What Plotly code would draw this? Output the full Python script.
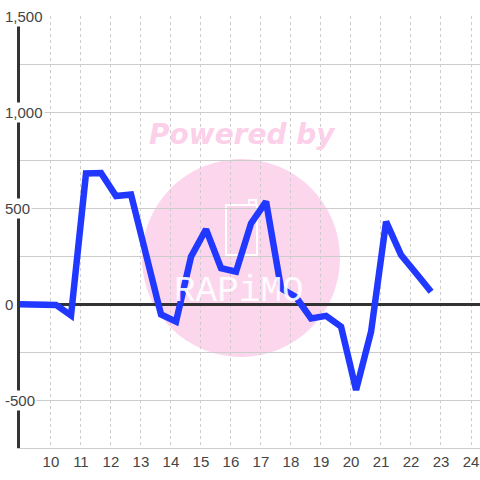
import plotly.graph_objects as go

x_hours = [8.67, 9.17, 9.67, 10.17, 10.67, 11.17, 11.67, 12.17, 12.67, 13.17,
           13.67, 14.17, 14.67, 15.17, 15.67, 16.17, 16.67, 17.17, 17.67, 18.17,
           18.67, 19.17, 19.67, 20.17, 20.67, 21.17, 21.67, 22.17, 22.67]
values = [0, 0, 0, -5, -60, 680, 682, 562, 570, 265,
          -55, -92, 246, 389, 186, 168, 420, 533, 82, 35,
          -75, -62, -118, -448, -144, 429, 255, 160, 64]

x_ticks = list(range(10, 25))
y_label_vals = [-500, 0, 500, 1000, 1500]
y_label_text = ["-500", "0", "500", "1,000", "1,500"]

fig = go.Figure()
fig.add_trace(go.Scatter(
    x=x_hours, y=values, mode="lines",
    line=dict(color="#2038ff", width=6.5),
    hoverinfo="skip", showlegend=False,
))

W, H = 480, 480
ml, mr, mt, mb = 20, 0, 16, 32
pw, ph = W - ml - mr, H - mt - mb

def px_x(p):
    return (p - ml) / pw

def px_y(p):
    return 1 - (p - mt) / ph

shapes = [
    # watermark circle
    dict(type="circle", xref="paper", yref="paper",
         x0=px_x(142), x1=px_x(340), y0=px_y(357), y1=px_y(159),
         fillcolor="#fcd6ec", line=dict(width=0), layer="below"),
    # phone outline
    dict(type="rect", xref="paper", yref="paper",
         x0=px_x(226), x1=px_x(257), y0=px_y(255), y1=px_y(205),
         line=dict(color="white", width=2), layer="below"),
    dict(type="rect", xref="paper", yref="paper",
         x0=px_x(249), x1=px_x(256), y0=px_y(205), y1=px_y(200),
         line=dict(color="white", width=2), layer="below"),
]

annotations = [
    dict(text="Powered by", xref="paper", yref="paper",
         x=px_x(242), y=px_y(134), xanchor="center", yanchor="middle",
         showarrow=False,
         font=dict(family="DejaVu Sans", size=28, color="#fcd0e9",
                   weight="bold", style="italic")),
    dict(text="RAPiMO", xref="paper", yref="paper",
         x=px_x(239), y=px_y(291), xanchor="center", yanchor="middle",
         showarrow=False, opacity=0.9,
         font=dict(family="Liberation Mono", size=36, color="white")),
]
for v, t in zip(y_label_vals, y_label_text):
    annotations.append(dict(
        text=t, xref="paper", yref="y", x=px_x(3), y=v,
        xanchor="left", yanchor="middle", showarrow=False,
        bgcolor="white", borderpad=1,
        font=dict(family="Liberation Sans, Arial", size=15, color="#444444"),
    ))

fig.update_layout(
    width=W, height=H,
    margin=dict(l=ml, r=mr, t=mt, b=mb, pad=0),
    paper_bgcolor="white", plot_bgcolor="white",
    shapes=shapes, annotations=annotations,
    xaxis=dict(
        range=[8.97, 24.3], tickmode="array", tickvals=x_ticks,
        ticktext=[str(t) for t in x_ticks],
        showgrid=True, gridcolor="#cccccc", gridwidth=1, griddash="3px,3px",
        showline=True, linecolor="#cccccc", linewidth=1,
        zeroline=False, ticks="", ticklen=0,
        tickfont=dict(family="Liberation Sans, Arial", size=15, color="#444444"),
    ),
    yaxis=dict(
        range=[-750, 1500], dtick=250, tick0=0,
        showgrid=True, gridcolor="#cccccc", gridwidth=1,
        showline=True, linecolor="#333333", linewidth=3,
        zeroline=True, zerolinecolor="#333333", zerolinewidth=3,
        showticklabels=False, ticks="",
    ),
)

fig.write_html(
    "out.html",
    config={"displayModeBar": False},
    post_script="document.body.style.margin='0';document.body.style.padding='0';",
)
